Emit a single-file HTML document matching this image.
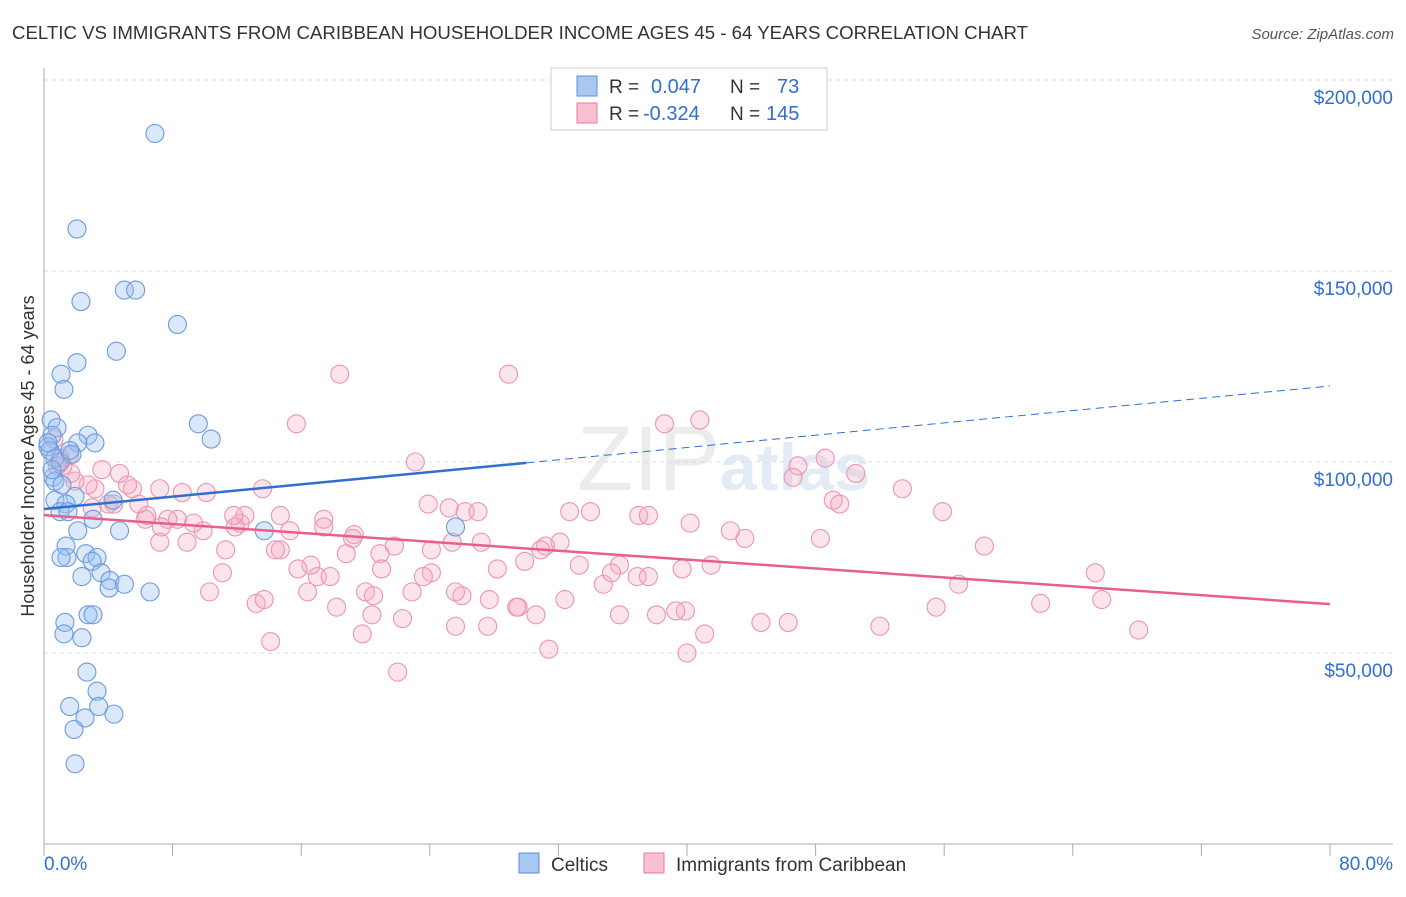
<!DOCTYPE html>
<html><head><meta charset="utf-8"><style>
body{margin:0;background:#fff;font-family:"Liberation Sans",sans-serif;}
svg text{font-family:"Liberation Sans",sans-serif;}
</style></head><body>
<svg id="chart" width="1406" height="892" viewBox="0 0 1406 892">
<text x="12" y="39" font-size="18" fill="#333" textLength="1016" lengthAdjust="spacingAndGlyphs">CELTIC VS IMMIGRANTS FROM CARIBBEAN HOUSEHOLDER INCOME AGES 45 - 64 YEARS CORRELATION CHART</text>
<text x="1394" y="39" font-size="15" fill="#555" font-style="italic" text-anchor="end">Source: ZipAtlas.com</text>
<text x="720" y="490" font-size="92" fill="#ececec" text-anchor="end" font-family="Liberation Serif">ZIP</text>
<text x="720" y="490" font-size="66" fill="#e3ecf6" font-weight="bold">atlas</text>
<text transform="translate(34,456) rotate(-90)" font-size="18" fill="#333" text-anchor="middle">Householder Income Ages 45 - 64 years</text>
<g id="grid"></g><g id="axes"></g><g id="marks"></g><g id="lines"></g>
<g>
<rect x="551" y="68" width="276" height="62" fill="#fff" stroke="#ccc"/>
<rect x="577" y="76" width="20" height="20" fill="#a8c8f0" stroke="#5b8fd9"/>
<rect x="577" y="103" width="20" height="20" fill="#f8c0d0" stroke="#e8789a"/>
<text x="609" y="93" font-size="19" fill="#333">R = </text><text x="651" y="93" font-size="20" fill="#2f6fd0">0.047</text>
<text x="730" y="93" font-size="19" fill="#333">N = </text><text x="777" y="93" font-size="20" fill="#2f6fd0">73</text>
<text x="609" y="120" font-size="19" fill="#333">R = </text><text x="643" y="120" font-size="20" fill="#2f6fd0">-0.324</text>
<text x="730" y="120" font-size="19" fill="#333">N = </text><text x="766" y="120" font-size="20" fill="#2f6fd0">145</text>
</g>
<g>
<rect x="519" y="853" width="20" height="20" fill="#a8c8f0" stroke="#5b8fd9"/>
<text x="551" y="871" font-size="19" fill="#333">Celtics</text>
<rect x="644" y="853" width="20" height="20" fill="#f8c0d0" stroke="#e8789a"/>
<text x="676" y="871" font-size="19" fill="#333">Immigrants from Caribbean</text>
</g>
</svg>
<script>
const xTicks=[0,8,16,24,32,40,48,56,64,72,80];
const yTicks=[50,100,150,200];
const yTickLabels=["$50,000","$100,000","$150,000","$200,000"];
const celticsX=[6.9,2.05,2.3,5.0,5.7,8.3,4.5,2.05,1.06,1.24,0.44,0.81,0.5,2.74,3.17,2.1,9.6,10.4,0.25,0.37,0.68,1.74,1.0,0.56,0.68,1.12,1.93,0.68,1.37,1.0,1.49,4.3,3.05,4.7,2.1,1.37,1.43,1.06,2.6,3.3,3.0,3.55,4.1,2.36,4.05,5.0,6.6,13.7,25.6,2.74,3.05,1.3,1.24,2.36,2.67,3.3,3.4,1.6,2.55,4.35,1.87,1.93,1.6,0.25,0.5];
const celticsY=[186,161,142,145,145,136,129,126,123,119,111,109,107,107,105,105,110,106,104,103,101,102,100,96,95,94,91,90,89,87,87,90,85,82,82,78,75,75,76,75,74,71,69,70,67,68,66,82,83,60,60,58,55,54,45,40,36,36,33,34,30,21,103,105,98];
const caribX=[18.4,28.9,15.7,40.8,38.6,23.1,46.9,48.6,50.5,46.6,53.4,49.1,49.5,55.9,58.5,56.9,55.5,62.0,65.4,65.8,68.1,48.3,43.6,42.7,40.2,41.5,39.7,39.9,41.1,40.0,44.6,46.3,52.0,37.0,37.6,34.0,32.7,31.2,30.9,32.1,29.9,33.3,34.8,35.8,35.3,36.9,37.6,35.8,38.1,39.3,31.4,32.4,30.6,29.5,29.4,27.7,28.2,27.6,26.0,25.6,25.6,27.2,25.4,25.2,26.2,27.0,23.9,24.1,24.1,23.6,22.9,22.3,22.0,21.8,20.9,21.0,20.0,20.5,20.4,19.8,19.3,18.8,19.2,18.2,17.4,17.4,17.0,17.8,16.6,15.8,15.3,14.7,14.4,14.1,14.7,13.6,12.5,12.2,11.9,11.8,11.3,11.1,10.3,10.1,9.9,9.3,8.9,8.6,8.3,7.7,7.3,7.2,7.2,6.4,6.3,5.9,5.5,5.2,4.7,4.35,4.0,3.6,3.17,2.74,1.93,1.68,1.18,1.0,0.81,0.62,1.6,3.0,13.2,13.7,16.4];
const caribY=[123,123,110,111,110,100,99,101,97,96,93,90,89,87,78,68,62,63,71,64,56,80,80,82,84,73,72,61,55,50,58,58,57,86,86,87,87,78,77,79,74,73,68,73,71,70,70,60,60,61,51,64,60,62,62,64,72,57,65,57,66,79,79,88,87,87,89,77,71,70,66,59,45,78,76,72,66,65,60,55,81,76,80,62,85,83,70,70,73,72,82,77,77,53,86,93,86,84,83,86,77,71,66,92,82,84,79,92,85,85,83,79,93,86,85,89,93,94,97,89,89,98,93,94,95,97,99,101,99,106,102,88,63,64,66];
const celticsTrend=[87.7,119.9];
const celticsSolidEnd=30;
const caribTrend=[86.1,62.8];

const NS="http://www.w3.org/2000/svg";
const X0=44,X1=1330,YB=844,PXK=191/50;
function sx(v){return X0+(v/80)*(X1-X0);}
function sy(v){return YB-v*PXK;}
function mk(tag,attrs,parent){const e=document.createElementNS(NS,tag);for(const k in attrs)e.setAttribute(k,attrs[k]);parent.appendChild(e);return e;}
const grid=document.getElementById('grid'),axes=document.getElementById('axes'),marks=document.getElementById('marks'),lines=document.getElementById('lines');
yTicks.forEach((t,i)=>{
 const l=mk('line',{x1:X0,x2:1393,y1:sy(t),y2:sy(t),stroke:'#dcdcdc','stroke-dasharray':'4,4'},grid);
 
 
 const tx=mk('text',{x:1393,y:sy(t)+24,'font-size':19,fill:'#2f6fd0','text-anchor':'end'},grid);
 tx.textContent=yTickLabels[i];
 
 
});
let a=mk('line',{x1:X0,x2:X0,y1:68,y2:YB,stroke:'#aaa'},axes);


a=mk('line',{x1:X0,x2:1393,y1:YB,y2:YB,stroke:'#aaa'},axes);


xTicks.forEach(t=>{
 const l=mk('line',{x1:sx(t),x2:sx(t),y1:YB,y2:YB+12,stroke:'#aaa'},axes);
 
 
});
let t1=mk('text',{x:44,y:870,'font-size':19,fill:'#2f6fd0'},axes);t1.textContent=xTicks[0].toFixed(1)+'%';


let t2=mk('text',{x:1393,y:870,'font-size':19,fill:'#2f6fd0','text-anchor':'end'},axes);t2.textContent=xTicks[xTicks.length-1].toFixed(1)+'%';


caribX.forEach((v,i)=>{
 const c=mk('circle',{cx:sx(v),cy:sy(caribY[i]),r:9,fill:'rgba(245,170,195,0.32)',stroke:'#ec94b0','stroke-width':1.1},marks);
 
 
});
celticsX.forEach((v,i)=>{
 const c=mk('circle',{cx:sx(v),cy:sy(celticsY[i]),r:9,fill:'rgba(150,190,240,0.35)',stroke:'#6a9ade','stroke-width':1.1},marks);
 
 
});
function ty(tr,x){return tr[0]+(tr[1]-tr[0])*x/80;}
let ln=mk('line',{x1:sx(0),y1:sy(ty(celticsTrend,0)),x2:sx(celticsSolidEnd),y2:sy(ty(celticsTrend,celticsSolidEnd)),stroke:'#2f6fd0','stroke-width':2.5},lines);


ln=mk('line',{x1:sx(celticsSolidEnd),y1:sy(ty(celticsTrend,celticsSolidEnd)),x2:sx(80),y2:sy(ty(celticsTrend,80)),stroke:'#2f6fd0','stroke-width':1,'stroke-dasharray':'8,5'},lines);


ln=mk('line',{x1:sx(0),y1:sy(ty(caribTrend,0)),x2:sx(80),y2:sy(ty(caribTrend,80)),stroke:'#e8608a','stroke-width':2.5},lines);


</script>
</body></html>
